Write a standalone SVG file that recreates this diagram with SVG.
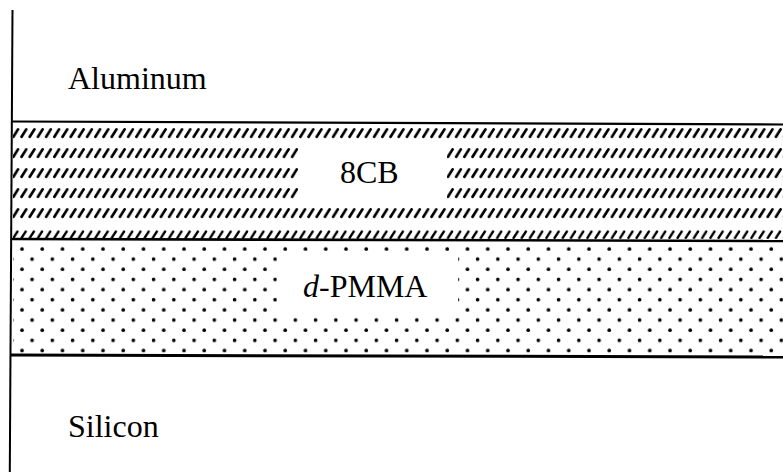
<svg xmlns="http://www.w3.org/2000/svg" width="783" height="472" viewBox="0 0 783 472">
  <defs>
    <style>
      text.lbl { font-family: 'Liberation Serif', 'DejaVu Serif', serif; font-size: 32px; fill: #000; }
      .edge { stroke: #000; fill: none; stroke-linecap: butt; }
    </style>
    <pattern id="hatch" patternUnits="userSpaceOnUse" x="12" y="123" width="8.2" height="20">
      <line x1="1.4" y1="13.8" x2="6.0" y2="6.4" stroke="#000" stroke-width="2.7" stroke-linecap="round"/>
    </pattern>
    <pattern id="hatchBase" patternUnits="userSpaceOnUse" x="12" y="228" width="8.2" height="12">
      <line x1="1.4" y1="9.8" x2="5.4" y2="3.6" stroke="#000" stroke-width="2.4" stroke-linecap="round"/>
    </pattern>
    <pattern id="dots" patternUnits="userSpaceOnUse" x="17" y="244" width="20.25" height="20.3">
      <circle cx="5" cy="5" r="1.8" fill="#000"/>
      <circle cx="15.1" cy="15.15" r="1.8" fill="#000"/>
    </pattern>
  </defs>
  <rect width="783" height="472" fill="#fff"/>

  <g id="aluminum">
    <text class="lbl" font-family="Liberation Serif, serif" x="68" y="89">Aluminum</text>
  </g>

  <g id="layer-8cb">
    <rect x="13" y="123" width="770" height="100" fill="url(#hatch)"/>
    <rect x="298" y="142" width="149" height="61" fill="#fff"/>
    <rect x="13" y="228" width="770" height="11" fill="url(#hatchBase)"/>
    <text class="lbl" font-family="Liberation Serif, serif" x="340" y="183">8CB</text>
  </g>

  <g id="layer-dpmma">
    <rect x="13" y="241" width="770" height="113" fill="url(#dots)"/>
    <rect x="277" y="254" width="181" height="60" fill="#fff"/>
    <text class="lbl" font-family="Liberation Serif, serif" x="303" y="297"><tspan font-style="italic">d</tspan>-PMMA</text>
  </g>

  <g id="silicon">
    <text class="lbl" font-family="Liberation Serif, serif" x="68" y="437">Silicon</text>
  </g>

  <g id="edges">
    <line class="edge" x1="12.5" y1="10" x2="9.8" y2="472" stroke-width="2"/>
    <line class="edge" x1="11" y1="121.5" x2="783" y2="124.5" stroke-width="2.2"/>
    <line class="edge" x1="11" y1="239" x2="783" y2="241" stroke-width="2.6"/>
    <line class="edge" x1="10" y1="355" x2="783" y2="357" stroke-width="3"/>
  </g>
</svg>
